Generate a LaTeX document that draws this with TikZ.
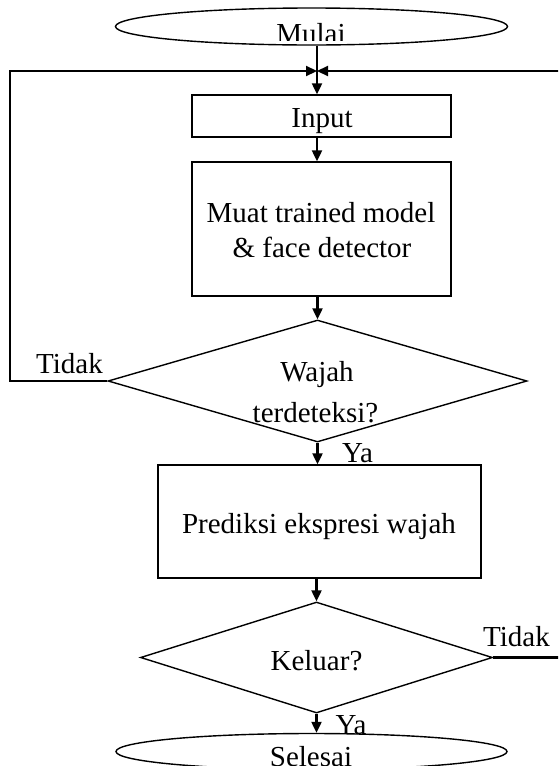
\documentclass[tikz,border=0pt]{standalone}
\usepackage{fontspec}
\setmainfont{Liberation Serif}
\usetikzlibrary{shapes.geometric,arrows.meta}
\begin{document}
\begin{tikzpicture}[x=1pt,y=-1pt,
  shapeline/.style={draw=black,line width=1.4pt},
  procbox/.style={shapeline,rectangle,inner sep=0pt},
  decision/.style={shapeline,diamond,inner sep=0pt},
  terminal/.style={shapeline,ellipse,inner sep=0pt},
  txt/.style={inner sep=0pt,anchor=base,font=\fontsize{29}{35}\selectfont},
  flow/.style={line width=2.2pt,-{Triangle[length=11pt,width=10pt]}}
]
\useasboundingbox (0,0) rectangle (558,766);
\clip (0,0) rectangle (558,766);

% shapes
\node[terminal, minimum width=392pt, minimum height=37pt] (mulai) at (311.5,26.5) {};
\node[procbox, minimum width=259pt, minimum height=42pt] (input) at (321.5,116) {};
\node[procbox, minimum width=259pt, minimum height=134pt] (muat) at (321.5,229) {};
\node[decision, minimum width=419pt, minimum height=122pt] (wajah) at (317.5,381) {};
\node[procbox, minimum width=323pt, minimum height=113pt] (prediksi) at (319.5,521.5) {};
\node[decision, minimum width=352pt, minimum height=111pt] (keluar) at (316.5,657.5) {};
\node[terminal, minimum width=391pt, minimum height=36pt] (selesai) at (311.5,751.5) {};

% texts
\begin{scope}
\clip (100,0) rectangle (520,40);
\node[txt] (mulaitxt) at (311,43) {Mulai};
\end{scope}
\node[txt] (inputtxt) at (322,127) {Input};
\node[txt] (muattxt1) at (321,222) {Muat trained model};
\node[txt] (muattxt2) at (322,257) {\& face detector};
\node[txt] (wajahtxt1) at (317,381) {Wajah};
\node[txt] (wajahtxt2) at (315.5,422) {terdeteksi?};
\node[txt] (tidak1) at (69.5,373) {Tidak};
\node[txt] (ya1) at (357.5,462) {Ya};
\node[txt] (prediksitxt) at (319,533) {Prediksi ekspresi wajah};
\node[txt] (keluartxt) at (316.5,670) {Keluar?};
\node[txt] (tidak2) at (516.5,646) {Tidak};
\node[txt] (ya2) at (351,734) {Ya};
\node[txt] (selesaitxt) at (311,766.5) {Selesai};

% connectors
\coordinate (join) at (317,71);
\coordinate (loopLb) at (10,381);
\coordinate (loopLt) at (10,71);
\coordinate (loopRb) at (575,657.5);
\coordinate (loopRt) at (575,71);

\draw[flow] (join |- mulai.south) -- (join |- input.north);
\draw[flow] (wajah.west) -- (loopLb) -- (loopLt) -- (join);
\draw[flow] (keluar.east) -- (loopRb) -- (loopRt) -- (join);
\draw[flow] (input.south -| join) -- (muat.north -| join);
\draw[flow] (muat.south -| wajah.north) -- (wajah.north);
\draw[flow] (wajah.south) -- (prediksi.north -| wajah.south);
\draw[flow] (prediksi.south -| keluar.north) -- (keluar.north);
\draw[flow] (keluar.south) -- (selesai.north -| keluar.south);
\end{tikzpicture}
\end{document}
